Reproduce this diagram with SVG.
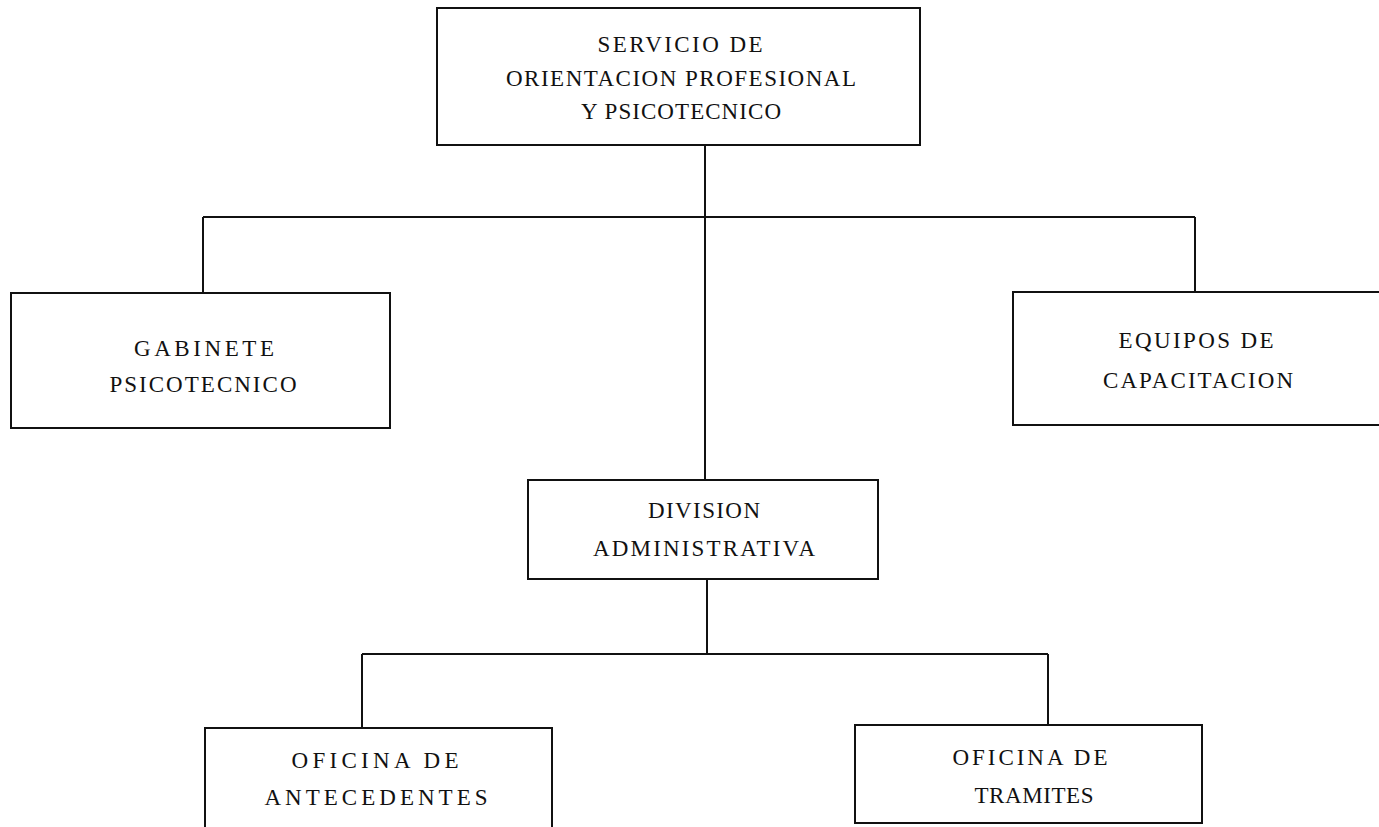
<svg xmlns="http://www.w3.org/2000/svg" width="1379" height="827" viewBox="0 0 1379 827">
<style>
.box{fill:#fff;stroke:#111;stroke-width:2}
.ln{stroke:#111;stroke-width:2;fill:none}
text{font-family:"Liberation Serif","Times New Roman",serif;font-size:23px;fill:#111;text-anchor:middle}
</style>
<rect width="1379" height="827" fill="#fff"/>
<g id="connectors">
<path class="ln" d="M705 145V480"/>
<path class="ln" d="M203 217H1195"/>
<path class="ln" d="M203 217V292"/>
<path class="ln" d="M1195 217V292"/>
<path class="ln" d="M707 579V654"/>
<path class="ln" d="M362 654H1048"/>
<path class="ln" d="M362 654V728"/>
<path class="ln" d="M1048 654V725"/>
</g>
<g id="n-servicio">
<rect class="box" x="437" y="8" width="483" height="137"/>
<text x="680" y="52" textLength="165" lengthAdjust="spacing">SERVICIO DE</text>
<text x="681" y="86" textLength="350" lengthAdjust="spacing">ORIENTACION PROFESIONAL</text>
<text x="681" y="119" textLength="200" lengthAdjust="spacing">Y PSICOTECNICO</text>
</g>
<g id="n-gabinete">
<rect class="box" x="11" y="293" width="379" height="135"/>
<text x="204" y="356" textLength="140" lengthAdjust="spacing">GABINETE</text>
<text x="203" y="392" textLength="187" lengthAdjust="spacing">PSICOTECNICO</text>
</g>
<g id="n-equipos">
<rect class="box" x="1013" y="292" width="380" height="133"/>
<text x="1196" y="348" textLength="155" lengthAdjust="spacing">EQUIPOS DE</text>
<text x="1198" y="388" textLength="190" lengthAdjust="spacing">CAPACITACION</text>
</g>
<g id="n-division">
<rect class="box" x="528" y="480" width="350" height="99"/>
<text x="704" y="518" textLength="112" lengthAdjust="spacing">DIVISION</text>
<text x="704" y="556" textLength="222" lengthAdjust="spacing">ADMINISTRATIVA</text>
</g>
<g id="n-antecedentes">
<rect class="box" x="205" y="728" width="347" height="110"/>
<text x="375" y="768" textLength="167" lengthAdjust="spacing">OFICINA DE</text>
<text x="376" y="805" textLength="223" lengthAdjust="spacing">ANTECEDENTES</text>
</g>
<g id="n-tramites">
<rect class="box" x="855" y="725" width="347" height="98"/>
<text x="1030" y="765" textLength="155" lengthAdjust="spacing">OFICINA DE</text>
<text x="1034" y="803" textLength="119" lengthAdjust="spacing">TRAMITES</text>
</g>
</svg>
